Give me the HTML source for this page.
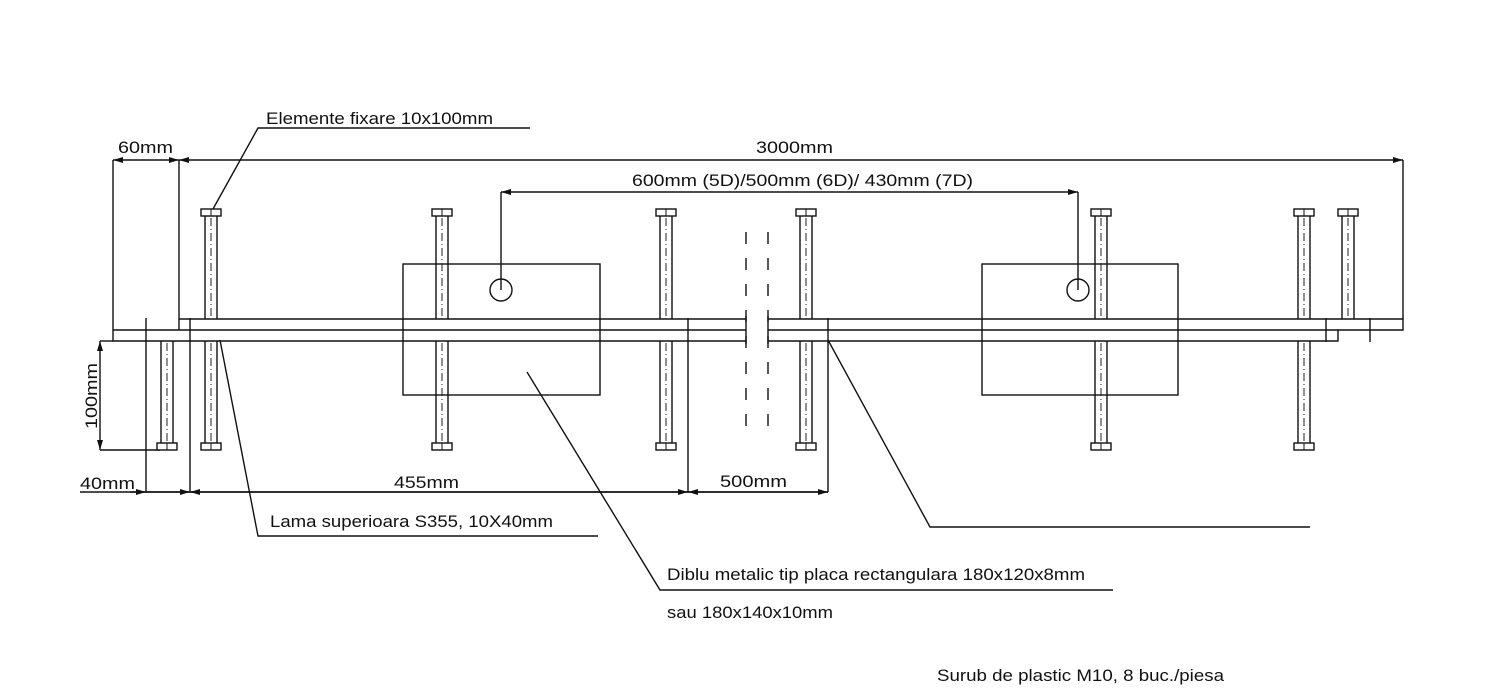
<!DOCTYPE html>
<html><head><meta charset="utf-8"><style>
html,body{margin:0;padding:0;background:#fff}
svg{display:block}
text{font-family:"Liberation Sans",sans-serif;font-size:17px;fill:#111}
</style></head><body>
<svg width="1511" height="700" viewBox="0 0 1511 700" xmlns="http://www.w3.org/2000/svg">
<defs>
<g id="top">
 <rect x="-10" y="209" width="20" height="7" fill="#fff" stroke="#111" stroke-width="1.4"/>
 <line x1="0" y1="209" x2="0" y2="216" stroke="#111" stroke-width="1"/>
 <line x1="-6" y1="216" x2="-6" y2="319" stroke="#111" stroke-width="1.4"/>
 <line x1="6" y1="216" x2="6" y2="319" stroke="#111" stroke-width="1.4"/>
 <line x1="0" y1="218" x2="0" y2="318" stroke="#222" stroke-width="1" stroke-dasharray="8,3,1,3"/>
</g>
<g id="bot">
 <line x1="-6" y1="341" x2="-6" y2="443" stroke="#111" stroke-width="1.4"/>
 <line x1="6" y1="341" x2="6" y2="443" stroke="#111" stroke-width="1.4"/>
 <line x1="0" y1="343" x2="0" y2="442" stroke="#222" stroke-width="1" stroke-dasharray="8,3,1,3"/>
 <rect x="-10" y="443" width="20" height="7" fill="#fff" stroke="#111" stroke-width="1.4"/>
 <line x1="0" y1="443" x2="0" y2="450" stroke="#111" stroke-width="1"/>
</g>
<marker id="ar" viewBox="0 0 10 6" refX="10" refY="3" markerWidth="16" markerHeight="6" markerUnits="userSpaceOnUse" orient="auto-start-reverse"><path d="M0,0 L10,3 L0,6 z" fill="#111"/></marker>
</defs>
<g stroke="#111" stroke-width="1.4" fill="none">
 <path d="M179,319 H746 M768,319 H1403 V330 H1338 M179,319 V330"/>
 <path d="M113,330 H746 M768,330 H1338 V341 H768 M746,341 H113 V330"/>
 <rect x="403" y="264" width="197" height="131"/>
 <rect x="982" y="264" width="196" height="131"/>
 <circle cx="501" cy="290" r="11"/>
 <circle cx="1078" cy="290" r="11"/>
 <line x1="746" y1="232" x2="746" y2="428" stroke-dasharray="12,14"/>
 <line x1="768" y1="232" x2="768" y2="428" stroke-dasharray="12,14"/>
 <line x1="746" y1="316" x2="746" y2="344"/>
 <line x1="768" y1="316" x2="768" y2="344"/>
 <line x1="1326" y1="318" x2="1326" y2="342"/>
 <line x1="1370" y1="318" x2="1370" y2="342"/>
 <line x1="113" y1="160" x2="179" y2="160" marker-start="url(#ar)" marker-end="url(#ar)"/>
 <line x1="179" y1="160" x2="1403" y2="160" marker-start="url(#ar)" marker-end="url(#ar)"/>
 <line x1="113" y1="160" x2="113" y2="330"/>
 <line x1="179" y1="160" x2="179" y2="319"/>
 <line x1="1403" y1="160" x2="1403" y2="319"/>
 <line x1="501" y1="192" x2="1078" y2="192" marker-start="url(#ar)" marker-end="url(#ar)"/>
 <line x1="501" y1="192" x2="501" y2="290"/>
 <line x1="1078" y1="192" x2="1078" y2="290"/>
 <line x1="100" y1="341" x2="100" y2="450" marker-start="url(#ar)" marker-end="url(#ar)"/>
 <line x1="100" y1="341" x2="113" y2="341"/>
 <line x1="100" y1="450" x2="160" y2="450"/>
 <line x1="80" y1="492" x2="828" y2="492"/>
 <line x1="130" y1="492" x2="146" y2="492" marker-end="url(#ar)"/>
 <line x1="146" y1="492" x2="190" y2="492" marker-end="url(#ar)"/>
 <line x1="190" y1="492" x2="688" y2="492" marker-start="url(#ar)" marker-end="url(#ar)"/>
 <line x1="688" y1="492" x2="828" y2="492" marker-start="url(#ar)" marker-end="url(#ar)"/>
 <line x1="146" y1="318" x2="146" y2="492"/>
 <line x1="190" y1="318" x2="190" y2="492"/>
 <line x1="688" y1="318" x2="688" y2="492"/>
 <line x1="828" y1="318" x2="828" y2="492"/>
 <path d="M213,209 L258,128 H530"/>
 <path d="M220,340 L258,536 H598"/>
 <path d="M527,372 L660,590 H1113"/>
 <path d="M828,340 L930,527 H1310"/>
</g>
<use href="#top" x="211"/><use href="#bot" x="211"/>
<use href="#bot" x="167"/>
<use href="#top" x="442"/><use href="#bot" x="442"/>
<use href="#top" x="666"/><use href="#bot" x="666"/>
<use href="#top" x="806"/><use href="#bot" x="806"/>
<use href="#top" x="1101"/><use href="#bot" x="1101"/>
<use href="#top" x="1304"/><use href="#bot" x="1304"/>
<use href="#top" x="1348"/>
<text x="266" y="124" textLength="227" lengthAdjust="spacingAndGlyphs">Elemente fixare 10x100mm</text>
<text x="118" y="153" textLength="55" lengthAdjust="spacingAndGlyphs">60mm</text>
<text x="756" y="153" textLength="77" lengthAdjust="spacingAndGlyphs">3000mm</text>
<text x="632" y="186" textLength="341" lengthAdjust="spacingAndGlyphs">600mm (5D)/500mm (6D)/ 430mm (7D)</text>
<text transform="translate(97,429) rotate(-90)" textLength="66" lengthAdjust="spacingAndGlyphs">100mm</text>
<text x="80" y="489" textLength="55" lengthAdjust="spacingAndGlyphs">40mm</text>
<text x="394" y="488" textLength="65" lengthAdjust="spacingAndGlyphs">455mm</text>
<text x="720" y="487" textLength="67" lengthAdjust="spacingAndGlyphs">500mm</text>
<text x="270" y="527" textLength="283" lengthAdjust="spacingAndGlyphs">Lama superioara S355, 10X40mm</text>
<text x="667" y="580" textLength="418" lengthAdjust="spacingAndGlyphs">Diblu metalic tip placa rectangulara 180x120x8mm</text>
<text x="667" y="618" textLength="166" lengthAdjust="spacingAndGlyphs">sau 180x140x10mm</text>
<text x="937" y="681" textLength="287" lengthAdjust="spacingAndGlyphs">Surub de plastic M10, 8 buc./piesa</text>
</svg>
</body></html>
